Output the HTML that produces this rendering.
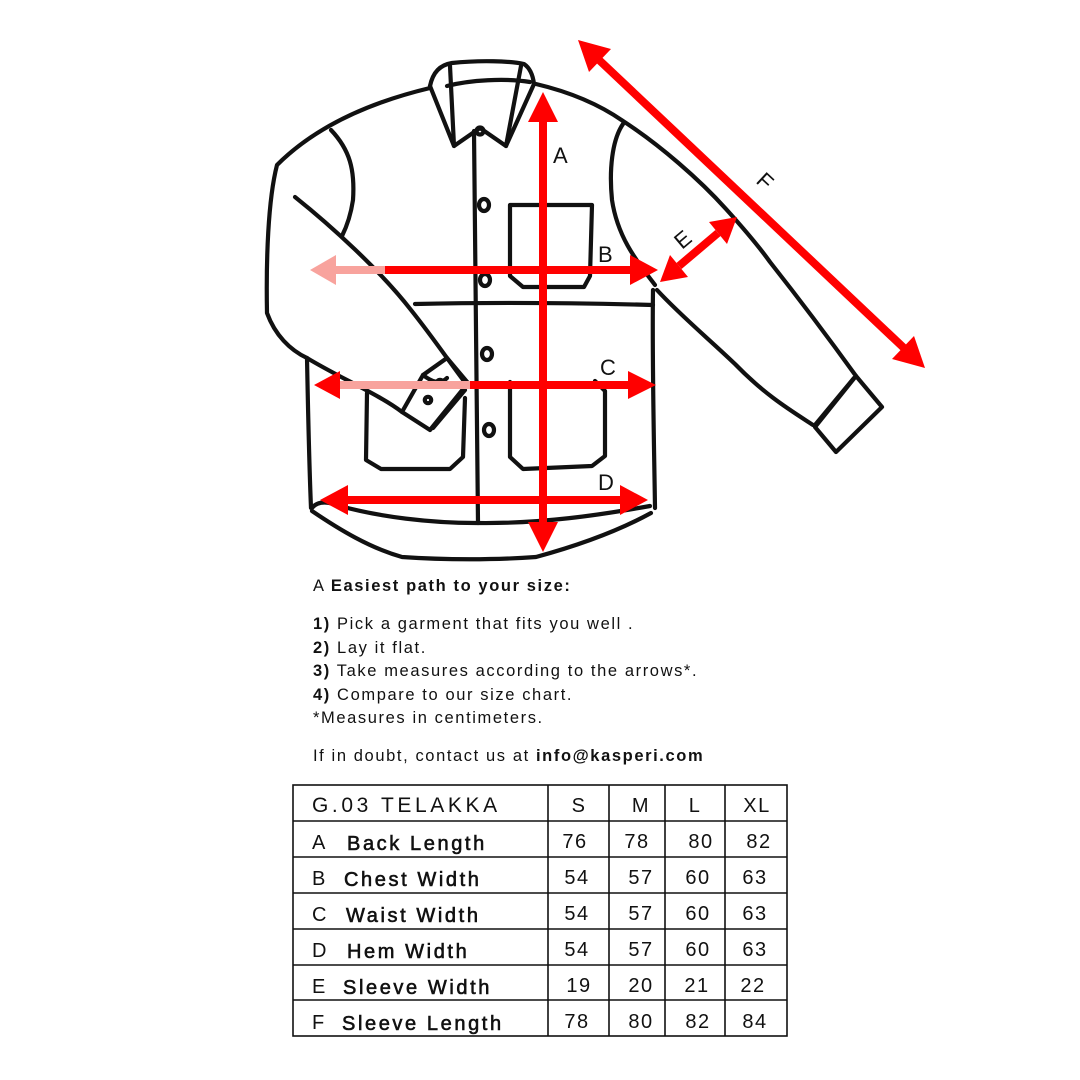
<!DOCTYPE html>
<html><head><meta charset="utf-8"><style>
html,body{margin:0;padding:0;background:#fff}
svg{display:block}
text{font-family:"Liberation Sans",sans-serif;fill:#111}
</style></head><body>
<svg width="1080" height="1080" viewBox="0 0 1080 1080" xmlns="http://www.w3.org/2000/svg">
<g fill="none" stroke="#111" stroke-width="4.2" stroke-linecap="round" stroke-linejoin="round">
<path d="M430,86 C433,72 440,65 452,63 C480,60 510,61 524,64 C530,68 533,76 534,84"/>
<path d="M447,86 C470,80 505,78 530,82"/>
<path d="M430,86 L454,146 L480,128 L506,146 L534,84"/>
<path d="M450,66 L454,146"/><path d="M521,66 L506,146"/>
<path d="M430,88 C380,100 320,122 277,165 C268,200 266,260 267,313 C275,335 290,350 307,358"/>
<path d="M331,130 C350,150 355,170 353,200 C350,220 344,232 342,236"/>
<path d="M295,197 C330,225 380,270 411,310 C435,340 455,370 467,385"/>
<path d="M307,358 C340,378 380,395 402,412"/>
<path d="M402,412 L423,375 L447,358 L468,383 L430,430 Z"/>
<path d="M465,390 L433,428"/>
<path d="M423,375 C432,382 440,385 447,378"/>
<circle cx="440" cy="383" r="3.2"/><circle cx="428" cy="400" r="3.2"/>
<path d="M307,358 C308,410 309,460 311,508"/>
<path d="M312,508 C318,500 330,502 340,506 C380,517 430,523 476,523 C540,524 600,515 650,506"/>
<path d="M312,511 C340,530 370,548 402,557 C445,560 495,560 536,557 C580,545 620,530 651,513"/>
<path d="M415,304 C500,302 580,303 653,305"/>
<path d="M653,290 C652,360 654,440 655,508"/>
<path d="M623,124 C612,140 609,170 612,200 C618,240 640,265 655,285"/>
<path d="M536,84 C570,92 600,105 623,121 C660,145 700,180 726,209 C745,230 760,248 770,262 C800,300 830,340 856,376"/>
<path d="M657,290 C680,315 710,340 735,364 C765,395 790,410 813,425"/>
<path d="M856,376 L882,407 L836,452 L815,427 Z"/>
<path d="M815,425 L854,378"/>
<path d="M474,131 C476,250 476,400 478,523"/>
<circle cx="480" cy="131" r="3.5"/>
<ellipse cx="484" cy="205" rx="5" ry="6"/>
<ellipse cx="485" cy="280" rx="5" ry="6"/>
<ellipse cx="487" cy="354" rx="5" ry="6"/>
<ellipse cx="489" cy="430" rx="5" ry="6"/>
<path d="M510,276 L510,205 L592,205 L590,276 L584,287 L523,287 Z"/>
<path d="M510,382 L510,457 L523,469 L592,466 L605,456 L605,391 L595,381"/>
<path d="M367,393 L366,460 L381,469 L450,469 L463,457 L465,398"/>
</g>
<g stroke-width="8" fill="none">
<line x1="543" y1="118" x2="543" y2="526" stroke="#ff0000"/>
<line x1="336" y1="270" x2="385" y2="270" stroke="#f8a39d"/>
<line x1="385" y1="270" x2="634" y2="270" stroke="#ff0000"/>
<line x1="336" y1="385" x2="470" y2="385" stroke="#f8a39d"/>
<line x1="470" y1="385" x2="632" y2="385" stroke="#ff0000"/>
<line x1="344" y1="500" x2="624" y2="500" stroke="#ff0000"/>
<line x1="679" y1="266" x2="718" y2="233" stroke="#ff0000"/>
<line x1="598" y1="59" x2="905" y2="349" stroke="#ff0000"/>
</g>
<g fill="#ff0000">
<polygon points="543,92 528,122 558,122"/>
<polygon points="543,552 528,522 558,522"/>
<polygon points="658,270 630,255 630,285"/>
<polygon points="314,385 340,371 340,399"/>
<polygon points="656,385 628,371 628,399"/>
<polygon points="320,500 348,485 348,515"/>
<polygon points="648,500 620,485 620,515"/>
<polygon points="660,282 688,277 670,255"/>
<polygon points="737,217 727,244 709,222"/>
<polygon points="578,40 589,72 611,49"/>
<polygon points="925,368 892,359 914,336"/>
</g>
<polygon points="310,270 336,255 336,285" fill="#f8a39d"/>
<g font-size="22">
<text x="553" y="163">A</text>
<text x="598" y="262">B</text>
<text x="600" y="375">C</text>
<text x="598" y="490">D</text>
<text transform="translate(682,250) rotate(-40)">E</text>
<text transform="translate(755,182) rotate(43)">F</text>
</g>
<g font-size="16.5" style="letter-spacing:1.6px">
<text x="313" y="591">A  <tspan font-weight="bold">Easiest path to your size:</tspan></text>
<text x="313" y="629"><tspan font-weight="bold">1)</tspan> Pick a garment that fits you well .</text>
<text x="313" y="653"><tspan font-weight="bold">2)</tspan> Lay it flat.</text>
<text x="313" y="676"><tspan font-weight="bold">3)</tspan> Take measures according to the arrows*.</text>
<text x="313" y="700"><tspan font-weight="bold">4)</tspan> Compare to our size chart.</text>
<text x="313" y="723">*Measures in centimeters.</text>
<text x="313" y="761">If in doubt, contact us at <tspan font-weight="bold">info@kasperi.com</tspan></text>
</g>
<g stroke="#111" stroke-width="1.6" fill="none">
<rect x="293" y="785" width="494" height="251"/>
<line x1="293" y1="821" x2="787" y2="821"/>
<line x1="293" y1="857" x2="787" y2="857"/>
<line x1="293" y1="893" x2="787" y2="893"/>
<line x1="293" y1="929" x2="787" y2="929"/>
<line x1="293" y1="965" x2="787" y2="965"/>
<line x1="293" y1="1000" x2="787" y2="1000"/>
<line x1="548" y1="785" x2="548" y2="1036"/>
<line x1="609" y1="785" x2="609" y2="1036"/>
<line x1="665" y1="785" x2="665" y2="1036"/>
<line x1="725" y1="785" x2="725" y2="1036"/>
</g>
<g font-size="20" style="letter-spacing:2.6px">
<text x="312" y="812" style="letter-spacing:3.6px" font-size="21">G.03 TELAKKA</text>
<text x="312" y="849">A</text><text x="347" y="850" stroke="#111" stroke-width="0.6">Back Length</text>
<text x="312" y="885">B</text><text x="344" y="886" stroke="#111" stroke-width="0.6">Chest Width</text>
<text x="312" y="921">C</text><text x="346" y="922" stroke="#111" stroke-width="0.6">Waist Width</text>
<text x="312" y="957">D</text><text x="347" y="958" stroke="#111" stroke-width="0.6">Hem Width</text>
<text x="312" y="993">E</text><text x="343" y="994" stroke="#111" stroke-width="0.6">Sleeve Width</text>
<text x="312" y="1029">F</text><text x="342" y="1030" stroke="#111" stroke-width="0.6">Sleeve Length</text>
</g>
<g font-size="20" text-anchor="middle" style="letter-spacing:1.5px">
<text x="579" y="812">S</text><text x="641" y="812">M</text><text x="695" y="812">L</text><text x="757" y="812">XL</text>
<text x="575" y="848">76</text><text x="637" y="848">78</text><text x="701" y="848">80</text><text x="759" y="848">82</text>
<text x="577" y="884">54</text><text x="641" y="884">57</text><text x="698" y="884">60</text><text x="755" y="884">63</text>
<text x="577" y="920">54</text><text x="641" y="920">57</text><text x="698" y="920">60</text><text x="755" y="920">63</text>
<text x="577" y="956">54</text><text x="641" y="956">57</text><text x="698" y="956">60</text><text x="755" y="956">63</text>
<text x="579" y="992">19</text><text x="641" y="992">20</text><text x="697" y="992">21</text><text x="753" y="992">22</text>
<text x="577" y="1028">78</text><text x="641" y="1028">80</text><text x="698" y="1028">82</text><text x="755" y="1028">84</text>
</g>
</svg>
</body></html>
